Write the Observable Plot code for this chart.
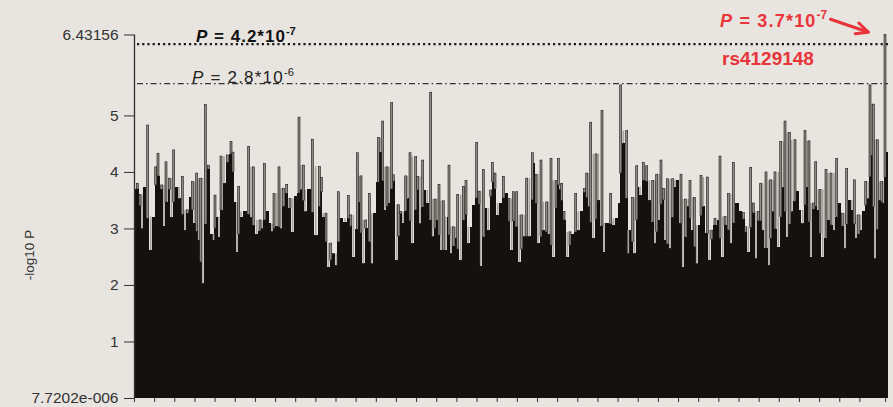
<!DOCTYPE html>
<html><head><meta charset="utf-8">
<script src="https://cdn.jsdelivr.net/npm/d3@7"></script>
<script src="https://cdn.jsdelivr.net/npm/@observablehq/plot@0.6"></script>
<style>
html,body{margin:0;padding:0;background:#e8e4df;}
#chart svg{display:block;}
</style></head><body><div id="chart"></div>
<script>
// marker positions along the region (arbitrary units) and -log10 P values
const positions = [
3.3,6.0,8.0,10.0,13.7,16.7,19.3,21.7,24.0,27.7,30.0,32.0,35.3,37.5,39.7,42.0,45.0,48.3,51.0,53.3,56.0,58.3,60.5,62.7,64.7,66.7,68.7,71.3,74.3,77.7,79.5,81.0,83.3,85.0,87.0,90.0,93.3,97.0,99.0,101.0,103.0,104.7,107.0,111.0,114.7,117.0,119.3,122.7,126.0,128.0,130.3,133.3,136.0,138.0,140.0,142.5,145.0,147.0,149.3,
152.7,156.0,158.7,161.7,165.0,167.0,169.3,171.0,175.0,178.3,181.7,185.3,187.5,189.3,192.0,194.3,196.7,199.3,202.3,204.3,207.7,211.0,214.3,216.7,219.3,223.3,225.0,227.0,229.3,231.7,235.3,237.7,240.3,244.3,246.3,248.7,251.0,253.0,255.0,257.7,259.3,262.7,264.3,266.7,269.0,271.7,273.3,276.0,278.3,281.7,283.7,286.0,288.7,291.0,293.3,296.7,298.7,
301.0,302.7,305.0,307.0,309.3,311.7,313.3,315.0,317.0,319.3,321.7,323.7,326.7,329.3,332.0,334.3,336.7,339.3,342.7,345.0,346.7,349.3,351.7,354.3,356.7,358.3,361.0,363.7,366.0,369.3,372.0,375.0,377.7,379.3,382.7,385.3,387.7,390.3,392.7,395.3,398.3,400.0,402.0,404.0,407.0,409.3,412.7,414.3,417.0,419.3,422.0,424.3,426.0,427.7,430.0,433.3,436.0,438.7,441.7,444.3,447.7,
450.3,452.7,454.7,456.7,459.3,462.0,464.3,468.0,470.0,472.7,476.7,479.3,482.7,485.0,486.7,489.3,492.7,494.3,496.0,498.3,500.3,502.7,504.5,506.0,509.3,512.7,515.3,518.7,521.0,522.7,525.0,527.0,529.3,531.0,533.3,536.0,538.7,541.0,543.3,547.0,548.7,551.3,554.3,556.0,558.7,560.3,562.7,565.0,567.0,569.3,573.3,575.3,577.7,581.0,584.3,586.0,588.7,591.0,594.3,596.7,599.3,
603.3,606.0,609.3,611.7,614.3,616.7,619.3,622.0,624.3,626.7,628.7,632.0,635.0,636.7,639.0,641.0,644.3,646.7,649.3,651.0,653.3,655.3,657.7,661.0,663.7,666.0,668.7,671.0,673.3,675.0,677.0,679.3,681.7,684.3,686.0,688.7,692.0,694.3,697.0,700.0,702.7,705.3,708.3,711.0,712.7,715.3,717.7,720.3,722.0,724.3,726.7,729.3,731.7,734.3,736.0,737.7,739.3,741.0,743.3,745.3,747.7,749.3,751.0,752.7
];
const logP = [
3.80,3.60,3.00,3.74,4.83,2.62,3.21,4.09,4.33,3.77,3.05,4.18,3.89,3.20,4.39,3.74,3.53,3.92,2.97,3.33,3.56,3.83,3.10,3.98,2.80,3.89,2.03,5.19,4.12,2.91,2.80,3.59,3.21,2.85,4.28,3.80,4.30,4.54,4.35,3.47,2.59,3.74,3.21,3.30,4.45,3.20,4.09,2.91,3.15,3.00,4.15,3.30,3.09,2.95,3.62,3.05,4.09,3.00,3.71,
3.78,3.53,2.94,3.58,4.97,3.69,4.12,3.30,3.69,4.58,2.88,4.10,3.90,3.20,3.27,2.32,2.74,2.56,2.35,3.65,3.18,3.12,3.58,3.24,2.50,4.34,3.47,3.93,2.38,3.15,3.62,2.38,3.27,4.61,4.36,4.90,3.33,4.09,3.45,5.23,3.95,2.44,3.42,3.30,3.10,3.93,3.53,4.34,2.74,4.27,3.92,3.09,4.21,3.68,3.45,5.41,2.86,
3.52,3.15,3.78,2.62,3.49,2.62,3.21,4.12,2.56,3.03,2.83,3.60,2.44,3.74,3.85,2.74,3.03,3.42,4.52,3.66,2.34,4.04,3.36,2.97,3.68,4.17,3.98,3.24,3.45,3.92,3.63,3.53,2.62,3.65,3.65,2.41,3.24,2.86,3.89,2.86,4.34,4.15,3.96,2.74,4.21,2.97,3.47,2.91,4.24,2.50,3.85,4.24,3.69,3.80,3.30,2.50,2.94,2.91,3.62,2.97,3.30,
3.71,3.98,3.39,4.88,2.83,4.32,3.50,5.09,2.59,3.10,3.62,3.06,3.18,3.45,5.54,4.51,4.73,2.56,2.97,3.55,2.56,4.11,3.74,3.59,4.17,4.11,3.50,3.85,2.74,3.96,3.15,4.21,3.71,2.80,3.88,2.65,3.88,3.74,3.86,3.96,2.32,3.52,3.39,3.85,2.97,3.55,2.38,3.06,3.94,3.39,3.91,2.44,2.97,3.18,3.15,4.28,2.50,3.21,3.62,2.74,4.17,
3.45,3.30,3.28,3.03,2.59,4.08,3.45,2.47,3.30,3.80,2.97,4.00,2.35,3.86,3.30,4.00,2.68,4.54,3.74,4.90,2.85,4.70,3.30,4.57,3.66,3.33,3.09,4.73,3.74,4.55,2.50,3.45,4.18,3.33,3.69,2.50,4.04,3.15,3.98,2.97,4.24,3.45,3.27,2.65,4.06,3.50,3.33,3.86,2.83,3.24,2.97,3.30,3.83,3.53,5.54,4.30,5.20,2.47,4.57,3.50,3.83,3.45,6.43,4.36
];
const regionEnd = 754;
const yTicks = [7.7202e-6, 1, 2, 3, 4, 5, 6.43156];
const yTickLabels = ["7.7202e-006", "1", "2", "3", "4", "5", "6.43156"];
const yLabel = "-log10 P";
const thresholds = [6.27, 5.57];
const thresholdText = [["P", " = 4.2*10", "-7"], ["P", " = 2.8*10", "-6"]];
const hitText = ["P", " = 3.7*10", "-7"];
const hitName = "rs4129148";
const xTickStep = 20.15;

// table for the marks
const n = positions.length;
const rows = positions.map((p, i) => {
  const v = logP[i];
  const prev = i > 0 ? logP[i - 1] : v;
  const next = i < n - 1 ? logP[i + 1] : v;
  return {
    p, v,
    x1: i > 0 ? (positions[i - 1] + p) / 2 : 0,
    x2: i < n - 1 ? (p + positions[i + 1]) / 2 : regionEnd,
    floor: Math.min(v, (prev + next) / 2),
    gapTop: Math.min(prev, next)
  };
});
const peak = rows.reduce((a, b) => (b.v > a.v ? b : a));
const labelMap = new Map(yTicks.map((t, i) => [t, yTickLabels[i]]));
const xTicks = d3.range(0, regionEnd - 20, xTickStep).concat([peak.p]);

const red = "#e8343a";
const font = "Liberation Sans, Arial, sans-serif";
const chart = Plot.plot({
  width: 893, height: 407,
  marginLeft: 134, marginRight: 5, marginTop: 34.5, marginBottom: 9,
  style: {background: "#e8e4df", color: "#333", fontFamily: font, overflow: "visible"},
  x: {domain: [0, regionEnd]},
  y: {domain: [0, 6.43156]},
  marks: [
    Plot.rect(rows, {x1: "x1", x2: "x2", y1: 0, y2: "floor", fill: "#15110f", shapeRendering: "crispEdges"}),
    Plot.rect(rows.filter(d => d.gapTop > d.v + 0.05), {x1: d => d.p - 0.8, x2: d => d.p + 0.8, y1: "v", y2: "gapTop", fill: "#a7a39e"}),
    Plot.rect(rows.filter(d => d.v > d.floor + 0.01), {x1: d => d.p - 1.0, x2: d => d.p + 1.0, y1: "floor", y2: "v", fill: "#8e8a86", stroke: "#1c1916", strokeWidth: 0.6}),
    Plot.ruleY([thresholds[0]], {x1: 3, x2: regionEnd, stroke: "#1a1a1a", strokeWidth: 2.2, strokeDasharray: "2.2 3"}),
    Plot.ruleY([thresholds[1]], {x1: 3, x2: regionEnd, stroke: "#333", strokeWidth: 1.2, strokeDasharray: "6 3 1.6 3"}),
    Plot.ruleX([0], {y1: 0, y2: 6.43156, stroke: "#333", strokeWidth: 1.3}),
    Plot.axisY(yTicks, {anchor: "left", tickSize: 10, tickPadding: 6, fontSize: 15.5, tickFormat: d => labelMap.get(d), label: null}),
    Plot.axisX(xTicks, {anchor: "bottom", tickSize: 4, tickFormat: () => "", label: null}),
    Plot.arrow([peak], {x1: d => d.p - 55, y1: d => d.v + 0.28, x2: d => d.p - 17, y2: d => d.v + 0.05, stroke: red, strokeWidth: 3, headLength: 11, headAngle: 50})
  ]
});
document.getElementById("chart").appendChild(chart);

const svg = d3.select(chart);
const sx = v => chart.scale("x").apply(v);
const sy = v => chart.scale("y").apply(v);
function addLabel(parts, x, y, o) {
  const t = svg.append("text").attr("x", x).attr("y", y).attr("fill", o.fill)
    .attr("text-anchor", "start")
    .attr("font-size", o.size).attr("font-weight", o.weight).attr("letter-spacing", o.ls)
    .attr("font-family", font);
  t.append("tspan").attr("font-style", "italic").text(parts[0]);
  t.append("tspan").text(parts[1]);
  t.append("tspan").attr("dy", -o.size * 0.42).attr("font-size", o.size * 0.66).attr("letter-spacing", 0).text(parts[2]);
}
addLabel(thresholdText[0], sx(62), sy(thresholds[0]) - 1.5, {fill: "#111", size: 17, weight: "bold", ls: 1});
addLabel(thresholdText[1], sx(58), sy(thresholds[1]), {fill: "#222", size: 17, weight: "normal", ls: 1.2});
addLabel(hitText, sx(peak.p) - 165, sy(peak.v) - 8, {fill: red, size: 18, weight: "bold", ls: 1.2});
svg.append("text").attr("x", sx(peak.p) - 163).attr("y", sy(thresholds[0]) + 21)
  .attr("text-anchor", "start")
  .attr("fill", red).attr("font-size", 19).attr("font-weight", "bold")
  .attr("font-family", font).text(hitName);
svg.append("text").attr("transform", `translate(34,${sy(2.53)}) rotate(-90)`)
  .attr("text-anchor", "middle").attr("fill", "#333").attr("font-size", 13.5)
  .attr("font-family", font).text(yLabel);
</script></body></html>
